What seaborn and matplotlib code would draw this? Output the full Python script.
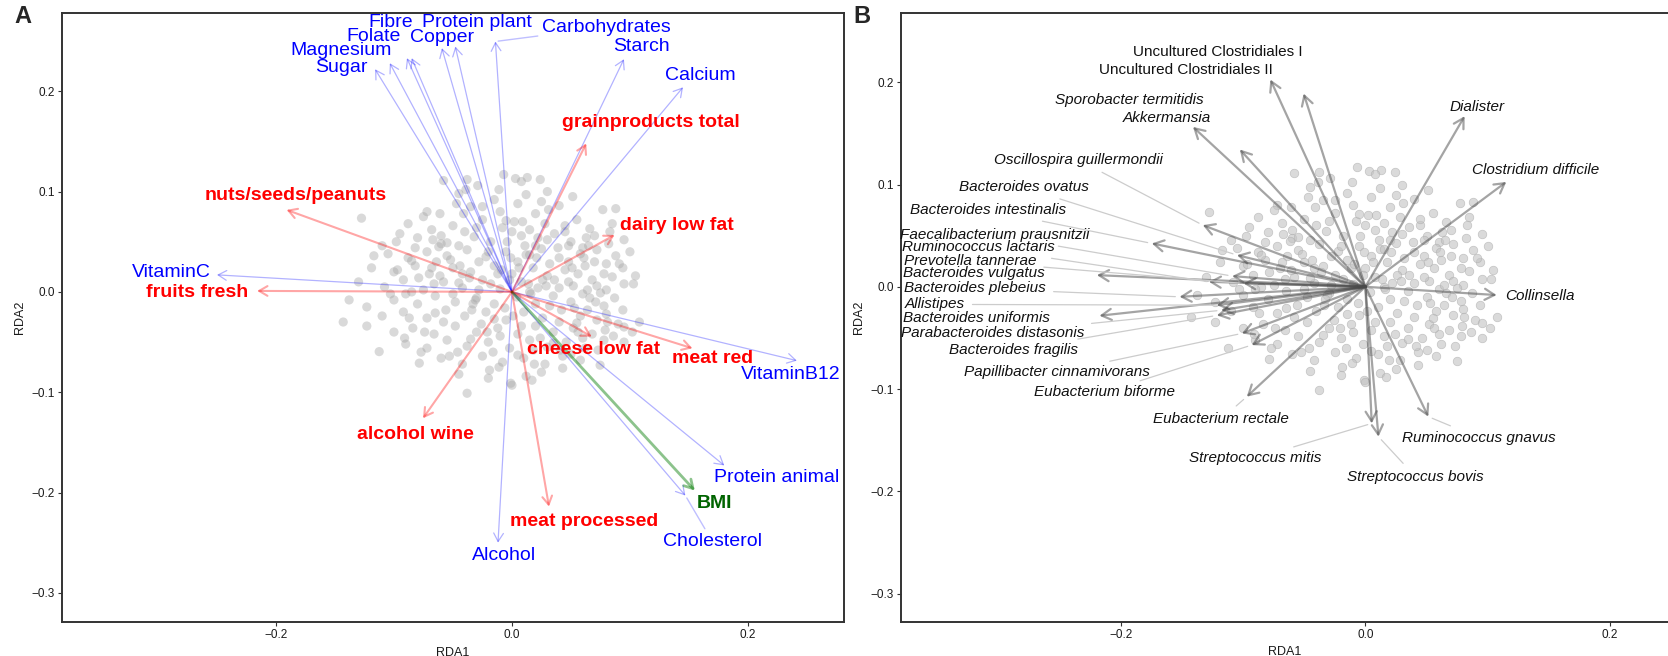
import numpy as np
import pandas as pd
import seaborn as sns
import matplotlib.pyplot as plt

# site scores (the same samples are drawn in both panels)
site_x = [-0.058, -0.038, -0.007, 0.003, 0.013, 0.024, 0.008,
          -0.029, 0.0515, -0.045, 0.030, -0.015, 0.012,
          -0.1275, 0.077, 0.088, -0.061, -0.035, 0.005, 0.040, -0.072, 0.020, -0.010,
          -0.088, -0.050, -0.025, 0.002, 0.028, 0.055, 0.066, -0.068, -0.040, 0.015, 0.045, -0.008, 0.085,
          -0.098, -0.080, -0.060, -0.032, -0.018, 0.008, 0.030, 0.050, 0.070, 0.082, 0.095, -0.045, 0.020, 0.060, -0.110,
          -0.105, -0.088, -0.072, -0.055, -0.038, -0.022, -0.005, 0.012, 0.025, 0.040, 0.058, 0.072, 0.088, 0.100, -0.064, 0.005, 0.048,
          -0.119, -0.100, -0.082, -0.070, -0.050, -0.035, -0.015, 0.000, 0.018, 0.030, 0.045, 0.062, 0.078, 0.094, 0.1047, -0.028, 0.070,
          -0.130, -0.108, -0.092, -0.075, -0.058, -0.042, -0.025, -0.010, 0.008, 0.022, 0.036, 0.052, 0.068, 0.080, 0.095, -0.085, 0.015, 0.060,
          -0.123, -0.100, -0.080, -0.065, -0.048, -0.030, -0.015, 0.004, 0.020, 0.035, 0.050, 0.066, 0.087, 0.094, 0.078, -0.138,
          -0.143, -0.110, -0.092, -0.072, -0.056, -0.040, -0.022, -0.005, 0.010, 0.026, 0.042, 0.058, 0.072, 0.108, 0.080,
          -0.123, -0.100, -0.084, -0.066, -0.048, -0.030, -0.012, 0.005, 0.020, 0.035, 0.052, 0.068, 0.079, 0.102, 0.090,
          -0.1125, -0.090, -0.072, -0.055, -0.038, -0.020, -0.002, 0.015, 0.030, 0.046, 0.062, 0.078, 0.095, 0.060,
          -0.0785, -0.060, -0.042, -0.025, -0.008, 0.010, 0.028, 0.043, 0.0747, 0.058, -0.011,
          -0.045, -0.020, 0.043, 0.012, -0.001, 0.025,
          -0.038, 0.000,
          -0.062, -0.052, -0.044, -0.036, -0.028, -0.020, -0.012, -0.004, 0.006, 0.014, 0.022, 0.032, 0.040, 0.048, 0.056, 0.064,
          -0.058, -0.050, -0.042, -0.034, -0.026, -0.018, -0.010, -0.002, 0.008, 0.016, 0.024, 0.032, 0.040, 0.048, 0.056, 0.064,
          -0.066, -0.074, -0.082, -0.090, 0.072, 0.080, 0.086, -0.060, -0.030, 0.000, 0.036, -0.016, 0.018, 0.050, -0.046, -0.068,
          0.026, -0.006,
          -0.095, -0.085, -0.075, -0.065, -0.055, -0.045, -0.035, -0.025, -0.015, -0.005,
          0.005, 0.015, 0.025, 0.035, 0.045, 0.055, 0.065, 0.075, 0.085, 0.095,
          -0.103, -0.091, -0.079, -0.067, -0.053, -0.041, -0.031, -0.021, -0.011, -0.001,
          0.009, 0.019, 0.029, 0.039, 0.053, 0.063, 0.073, 0.083, 0.091, 0.103,
          -0.117, -0.097, -0.077, -0.061, -0.047, -0.033, -0.019, -0.009, 0.001, 0.011,
          0.021, 0.031, 0.041, 0.051, 0.061, 0.071, 0.081, -0.087, -0.039, 0.017]
site_y = [0.111, 0.112, 0.117, 0.113, 0.114, 0.112, 0.110,
          0.106, 0.095, 0.098, 0.100, 0.092, 0.097,
          0.0735, 0.082, 0.083, 0.078, 0.085, 0.088, 0.086, 0.080, 0.078, 0.080,
          0.068, 0.066, 0.072, 0.070, 0.068, 0.072, 0.063, 0.062, 0.060, 0.062, 0.060, 0.064, 0.068,
          0.050, 0.054, 0.048, 0.055, 0.050, 0.056, 0.052, 0.050, 0.056, 0.048, 0.052, 0.046, 0.046, 0.044, 0.046,
          0.038, 0.034, 0.040, 0.036, 0.042, 0.035, 0.040, 0.037, 0.043, 0.034, 0.038, 0.042, 0.036, 0.040, 0.030, 0.030, 0.030,
          0.024, 0.020, 0.026, 0.018, 0.024, 0.020, 0.026, 0.018, 0.024, 0.016, 0.022, 0.026, 0.018, 0.024, 0.016, 0.030, 0.030,
          0.010, 0.005, 0.012, 0.002, 0.010, 0.004, 0.012, 0.003, 0.010, 0.004, 0.012, 0.006, 0.012, 0.002, 0.008, 0.000, 0.000, -0.002,
          -0.015, -0.008, -0.012, -0.004, -0.010, -0.006, -0.012, -0.005, -0.012, -0.004, -0.010, -0.006, -0.006, -0.018, -0.014, -0.008,
          -0.030, -0.024, -0.020, -0.026, -0.018, -0.024, -0.020, -0.028, -0.020, -0.026, -0.018, -0.024, -0.028, -0.030, -0.022,
          -0.034, -0.040, -0.036, -0.042, -0.034, -0.040, -0.036, -0.042, -0.034, -0.040, -0.036, -0.042, -0.038, -0.040, -0.032,
          -0.0595, -0.052, -0.056, -0.048, -0.054, -0.050, -0.056, -0.048, -0.055, -0.050, -0.056, -0.048, -0.050, -0.046,
          -0.071, -0.066, -0.072, -0.064, -0.070, -0.066, -0.072, -0.064, -0.073, -0.068, -0.075,
          -0.082, -0.086, -0.076, -0.084, -0.091, -0.080,
          -0.101, -0.093,
          0.045, 0.032, 0.026, 0.014, 0.002, 0.040, 0.018, 0.050, 0.024, 0.008, 0.054, 0.028, 0.004, 0.046, 0.018, 0.002,
          -0.030, -0.002, 0.018, -0.018, -0.032, 0.008, -0.044, 0.012, -0.034, -0.002, -0.046, -0.014, -0.030, 0.010, -0.040, -0.018,
          0.008, -0.040, 0.044, -0.002, 0.006, 0.028, -0.044, 0.056, 0.064, 0.060, 0.058, -0.060, -0.058, -0.062, -0.060, 0.024,
          0.012, -0.016,
          0.058, 0.031, 0.075, -0.021, 0.049, 0.009, -0.047, 0.085, -0.027, 0.071,
          -0.063, 0.037, 0.090, -0.051, 0.066, -0.031, 0.046, -0.001, 0.015, -0.035,
          -0.002, -0.046, 0.014, 0.052, -0.064, 0.078, -0.008, -0.040, 0.102, 0.034,
          0.070, -0.072, 0.006, 0.044, -0.016, 0.054, -0.058, 0.060, 0.028, 0.008,
          0.036, 0.022, -0.060, 0.016, 0.088, -0.012, -0.078, 0.022, -0.024, 0.046,
          0.034, 0.082, -0.058, 0.024, 0.034, -0.010, -0.030, -0.026, 0.102, -0.088]

# panel A: diet / nutrient vectors
diet_names = ['Sugar', 'Magnesium', 'Folate', 'Fibre', 'Copper', 'Protein plant', 'Carbohydrates',
              'Starch', 'Calcium', 'VitaminC', 'VitaminB12', 'Protein animal', 'Cholesterol', 'Alcohol',
              'nuts/seeds/peanuts', 'fruits fresh', 'grainproducts total', 'dairy low fat',
              'cheese low fat', 'meat red', 'alcohol wine', 'meat processed', 'BMI']
diet_x = [-0.116, -0.1035, -0.089, -0.085, -0.0594, -0.048, -0.014, 0.0949, 0.145, -0.250, 0.2415,
          0.180, 0.147, -0.0118, -0.191, -0.216, 0.063, 0.087, 0.0677, 0.153, -0.0754, 0.0314, 0.155]
diet_y = [0.222, 0.228, 0.233, 0.233, 0.243, 0.2446, 0.2496, 0.232, 0.204, 0.017, -0.0685,
          -0.173, -0.203, -0.250, 0.0818, 0.001, 0.148, 0.0568, -0.0446, -0.0562, -0.126, -0.214, -0.198]
diet_lab_x = [-0.1443, -0.1448, -0.117, -0.1025, -0.0594, -0.030, 0.0804, 0.1094, 0.160, -0.2886, 0.236,
              0.224, 0.170, -0.0063, -0.183, -0.267, 0.1176, 0.1394, 0.069, 0.1698, -0.0817, 0.0613, 0.172]
diet_lab_y = [0.2236, 0.2406, 0.2545, 0.2685, 0.254, 0.2685, 0.2639, 0.2446, 0.2157, 0.0196, -0.0828,
              -0.185, -0.249, -0.263, 0.0957, -0.0007, 0.169, 0.0661, -0.0578, -0.0668, -0.1426, -0.229, -0.2107]
diet_group = ['nutrient'] * 14 + ['food'] * 8 + ['bmi']
diet_leader = ['Carbohydrates', 'Cholesterol']

# panel B: species vectors
sp_names = ['Uncultured Clostridiales I', 'Uncultured Clostridiales II', 'Sporobacter termitidis',
            'Akkermansia', 'Dialister', 'Oscillospira guillermondii', 'Clostridium difficile',
            'Bacteroides ovatus', 'Bacteroides intestinalis', 'Faecalibacterium prausnitzii',
            'Ruminococcus lactaris', 'Prevotella tannerae', 'Bacteroides vulgatus', 'Bacteroides plebeius',
            'Collinsella', 'Allistipes', 'Bacteroides uniformis', 'Parabacteroides distasonis',
            'Bacteroides fragilis', 'Papillibacter cinnamivorans', 'Eubacterium biforme',
            'Eubacterium rectale', 'Streptococcus mitis', 'Streptococcus bovis', 'Ruminococcus gnavus']
sp_x = [-0.0505, -0.0777, -0.1027, -0.141, 0.0812, -0.133, 0.1153, -0.105, -0.1747, -0.109,
        -0.128, -0.0997, -0.2196, -0.152, 0.1074, -0.1215, -0.2175, -0.118, -0.1215, -0.101,
        -0.093, -0.097, 0.0052, 0.0107, 0.0515]
sp_y = [0.189, 0.2027, 0.1343, 0.1564, 0.1669, 0.0603, 0.1026, 0.031, 0.0424, 0.0105,
        0.0049, 0.0033, 0.0114, -0.0098, -0.0081, -0.018, -0.0283, -0.023, -0.028, -0.0456,
        -0.057, -0.1075, -0.1336, -0.1466, -0.127]
sp_lab_x = [-0.1209, -0.1468, -0.193, -0.162, 0.0916, -0.2344, 0.1395, -0.2796, -0.3088, -0.3033,
            -0.3164, -0.3232, -0.320, -0.319, 0.1425, -0.352, -0.3177, -0.305, -0.2878, -0.2523,
            -0.2137, -0.1178, -0.0898, 0.041, 0.0929]
sp_lab_y = [0.2297, 0.2118, 0.1825, 0.1646, 0.176, 0.1239, 0.114, 0.0972, 0.075, 0.0505,
            0.0385, 0.0251, 0.013, -0.0016, -0.0088, -0.0172, -0.0303, -0.0456, -0.0619, -0.0837,
            -0.1032, -0.1293, -0.1678, -0.1857, -0.1476]
sp_upright = ['Uncultured Clostridiales I', 'Uncultured Clostridiales II']
sp_no_leader = ['Uncultured Clostridiales I', 'Uncultured Clostridiales II', 'Sporobacter termitidis',
                'Akkermansia', 'Dialister', 'Clostridium difficile', 'Collinsella',
                'Bacteroides vulgatus', 'Bacteroides uniformis']

sites = pd.DataFrame({'RDA1': site_x, 'RDA2': site_y})
diet = pd.DataFrame({'name': diet_names, 'x': diet_x, 'y': diet_y,
                     'lx': diet_lab_x, 'ly': diet_lab_y, 'group': diet_group})
species = pd.DataFrame({'name': sp_names, 'x': sp_x, 'y': sp_y, 'lx': sp_lab_x, 'ly': sp_lab_y})

sns.set_style('white')
plt.rcParams['font.family'] = ['Liberation Sans', 'DejaVu Sans']
plt.rcParams['axes.unicode_minus'] = True

fig = plt.figure(figsize=(16.68, 6.56), dpi=100)
ax1 = fig.add_axes([0.0369, 0.0518, 0.4688, 0.9284])
ax2 = fig.add_axes([0.540, 0.0523, 0.460, 0.9283])


def style_axes(ax, xlim, ylim):
    ax.set_xlim(xlim)
    ax.set_ylim(ylim)
    ax.set_xticks([-0.2, 0.0, 0.2])
    ax.set_yticks([-0.3, -0.2, -0.1, 0.0, 0.1, 0.2])
    ax.xaxis.set_major_formatter(plt.FuncFormatter(lambda v, p: f'{v:.1f}'.replace('-', '\u2212')))
    ax.yaxis.set_major_formatter(plt.FuncFormatter(lambda v, p: f'{v:.1f}'.replace('-', '\u2212')))
    ax.tick_params(axis='both', direction='out', length=3, width=0.8, color='#333333',
                   labelsize=8.5, labelcolor='#1a1a1a', pad=2, bottom=True, left=True)
    for s in ax.spines.values():
        s.set_color('#333333')
        s.set_linewidth(1.4)
    ax.set_xlabel('RDA1', fontsize=9, color='#1a1a1a', labelpad=4)
    ax.set_ylabel('RDA2', fontsize=9, color='#1a1a1a', labelpad=4)


# ---------------- panel A
sns.scatterplot(data=sites, x='RDA1', y='RDA2', ax=ax1, color='#a6a6a6', alpha=0.42,
                s=44, edgecolor='none', zorder=1)

arrow_style = {'nutrient': dict(color='#0000ff', alpha=0.3, lw=0.9),
               'food': dict(color='#ff0000', alpha=0.35, lw=1.5),
               'bmi': dict(color='#007a00', alpha=0.45, lw=2.0)}
text_style = {'nutrient': dict(color='#0000ff', fontweight='normal'),
              'food': dict(color='#ff0000', fontweight='bold'),
              'bmi': dict(color='#006400', fontweight='bold')}

for _, r in diet.iterrows():
    st = arrow_style[r['group']]
    ax1.annotate('', xy=(r['x'], r['y']), xytext=(0, 0),
                 arrowprops=dict(arrowstyle='->,head_length=0.6,head_width=0.35', mutation_scale=10,
                                 shrinkA=0, shrinkB=0, **st), zorder=3)
for _, r in diet.iterrows():
    ts = text_style[r['group']]
    if r['name'] in diet_leader:
        ax1.annotate(r['name'], xy=(r['x'], r['y']), xytext=(r['lx'], r['ly']),
                     ha='center', va='center', fontsize=14, zorder=4, **ts,
                     arrowprops=dict(arrowstyle='-', color='#8080ff', alpha=0.5, lw=1,
                                     shrinkA=1, shrinkB=2))
    else:
        ax1.text(r['lx'], r['ly'], r['name'], ha='center', va='center', fontsize=14, zorder=4, **ts)

style_axes(ax1, (-0.3817, 0.281), (-0.329, 0.278))

# ---------------- panel B
sns.scatterplot(data=sites, x='RDA1', y='RDA2', ax=ax2, color='#c4c4c4', alpha=0.62,
                s=38, edgecolor='#aaaaaa', linewidth=0.5, zorder=1)

for _, r in species.iterrows():
    ax2.annotate('', xy=(r['x'], r['y']), xytext=(0, 0),
                 arrowprops=dict(arrowstyle='->,head_length=0.7,head_width=0.4', mutation_scale=10,
                                 shrinkA=0, shrinkB=0, color='#4a4a4a', alpha=0.5, lw=1.6), zorder=3)
for _, r in species.iterrows():
    style = 'normal' if r['name'] in sp_upright else 'italic'
    if r['name'] in sp_no_leader:
        ax2.text(r['lx'], r['ly'], r['name'], ha='center', va='center', fontsize=11,
                 fontstyle=style, color='#111111', zorder=4)
    else:
        ax2.annotate(r['name'], xy=(r['x'], r['y']), xytext=(r['lx'], r['ly']),
                     ha='center', va='center', fontsize=11, fontstyle=style, color='#111111', zorder=4,
                     arrowprops=dict(arrowstyle='-', color='#cccccc', lw=0.9, shrinkA=3, shrinkB=3))

style_axes(ax2, (-0.380, 0.2475), (-0.3275, 0.268))
ax2.spines['right'].set_visible(False)

fig.text(0.0135, 0.975, 'A', fontsize=17, fontweight='bold', ha='center', va='center')
fig.text(0.517, 0.975, 'B', fontsize=17, fontweight='bold', ha='center', va='center')

fig.savefig('out.png', dpi=100)
